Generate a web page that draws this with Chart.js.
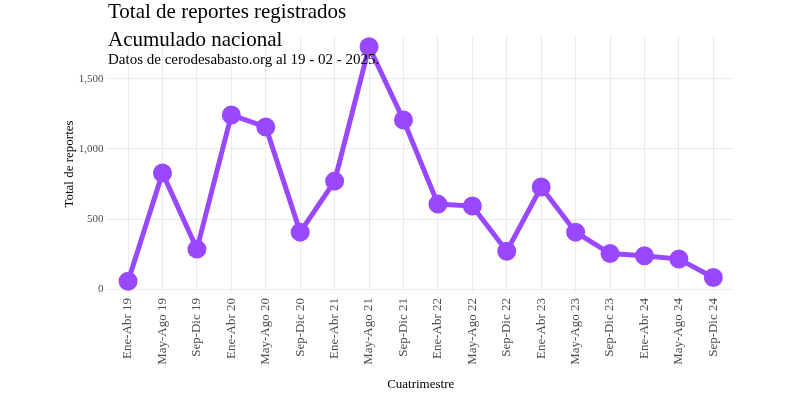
<!DOCTYPE html>
<html>
<head>
<meta charset="utf-8">
<script src="https://cdn.jsdelivr.net/npm/chart.js@4"></script>
<style>
  body { margin: 0; background: #fff; }
  #wrap { position: relative; width: 800px; height: 396px; }
  .txt { position: absolute; left: 108px; font-family: "Liberation Serif", serif; color: #000; white-space: nowrap; }
  #title { top: -1px; font-size: 21px; }
  #subtitle { top: 27px; font-size: 21px; }
  #caption { top: 51px; font-size: 15px; }
</style>
</head>
<body>
<div id="wrap">
  <canvas id="reportesChart" width="800" height="396"></canvas>
  <div class="txt" id="title">Total de reportes registrados</div>
  <div class="txt" id="subtitle">Acumulado nacional</div>
  <div class="txt" id="caption">Datos de cerodesabasto.org al 19 - 02 - 2025.</div>
</div>
<script>
const categories = ['Ene-Abr 19', 'May-Ago 19', 'Sep-Dic 19', 'Ene-Abr 20', 'May-Ago 20', 'Sep-Dic 20',
    'Ene-Abr 21', 'May-Ago 21', 'Sep-Dic 21', 'Ene-Abr 22', 'May-Ago 22', 'Sep-Dic 22',
    'Ene-Abr 23', 'May-Ago 23', 'Sep-Dic 23', 'Ene-Abr 24', 'May-Ago 24', 'Sep-Dic 24'];
const reportes = [57, 829, 286, 1243, 1157, 407, 771, 1729, 1207, 607, 593, 271, 729, 407, 254, 238, 215, 83];
const yTicks = [0, 500, 1000, 1500];

const purple = '#9a48ff';
const font = 'Liberation Serif';

const ctx = document.getElementById('reportesChart').getContext('2d');

new Chart(ctx, {
    type: 'line',
    data: {
        datasets: [{
            data: reportes.map((v, i) => ({ x: i, y: v })),
            borderColor: purple,
            backgroundColor: purple,
            borderWidth: 5,
            pointRadius: 7,
            pointHoverRadius: 7,
            tension: 0
        }]
    },
    options: {
        responsive: false,
        animation: false,
        layout: {
            padding: { left: 62, right: 66, top: 35, bottom: 4 }
        },
        plugins: {
            legend: { display: false },
            tooltip: { enabled: false }
        },
        scales: {
            x: {
                type: 'linear',
                min: -0.6,
                max: categories.length - 1 + 0.6,
                afterBuildTicks: function (scale) {
                    scale.ticks = categories.map((c, i) => ({ value: i }));
                },
                afterFit: function (scale) {
                    scale.height = 99;
                },
                ticks: {
                    autoSkip: false,
                    minRotation: 90,
                    maxRotation: 90,
                    padding: 5,
                    color: '#4d4d4d',
                    font: { family: font, size: 13 },
                    callback: function (value) {
                        return categories[value];
                    }
                },
                grid: { color: '#ebebeb', lineWidth: 1, drawTicks: false },
                border: { display: false },
                title: {
                    display: true,
                    text: 'Cuatrimestre',
                    color: '#000',
                    font: { family: font, size: 13 },
                    padding: { top: 0, bottom: 0 }
                }
            },
            y: {
                min: -27,
                max: 1813,
                afterBuildTicks: function (scale) {
                    scale.ticks = yTicks.map(v => ({ value: v }));
                },
                afterFit: function (scale) {
                    scale.width = 45.4;
                },
                ticks: {
                    color: '#4d4d4d',
                    padding: 4,
                    font: { family: font, size: 11 },
                    callback: function (value) {
                        return value.toLocaleString('en-US');
                    }
                },
                grid: { color: '#ebebeb', lineWidth: 1, drawTicks: false },
                border: { display: false },
                title: {
                    display: true,
                    text: 'Total de reportes',
                    color: '#000',
                    font: { family: font, size: 13 },
                    padding: { top: 0, bottom: 0 }
                }
            }
        }
    }
});
</script>
</body>
</html>
